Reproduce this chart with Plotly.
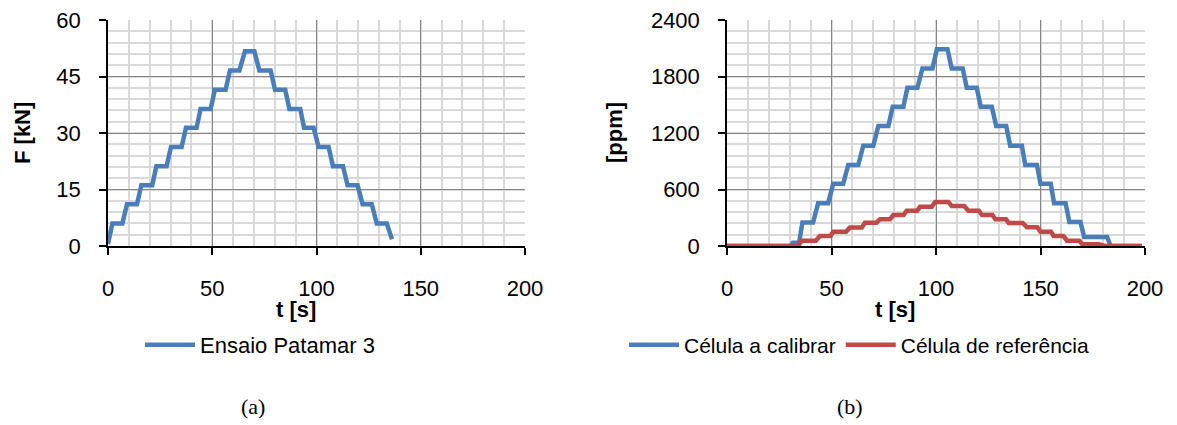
import plotly.graph_objects as go

# ---------------- data ----------------
# (a) Ensaio Patamar 3
t_a = [0, 2.1, 6.9, 9.1, 13.9, 16.0, 21.2, 23.2, 28.1, 30.2, 35.3, 37.4, 42.5, 44.4,
       49.2, 51.3, 56.4, 58.5, 63.0, 65.7, 70.2, 72.6, 78.0, 80.1, 85.0, 87.0, 92.2,
       94.0, 98.6, 101.0, 105.8, 107.9, 112.7, 114.9, 119.7, 122.1, 126.5, 128.9,
       133.7, 136.2]
F_a = [0.5, 6.0, 6.0, 11.1, 11.1, 16.1, 16.1, 21.2, 21.2, 26.3, 26.3, 31.4, 31.4, 36.4,
       36.4, 41.5, 41.5, 46.6, 46.6, 51.7, 51.7, 46.6, 46.6, 41.5, 41.5, 36.4, 36.4,
       31.4, 31.4, 26.3, 26.3, 21.2, 21.2, 16.1, 16.1, 11.1, 11.1, 6.0, 6.0, 1.8]

# (b) Célula a calibrar
t_cal = [0, 30.5, 31.5, 34.5, 36.1, 41.2, 43.6, 48.4, 50.8, 55.6, 58.0, 62.8, 65.2,
         70.0, 72.4, 77.2, 79.3, 84.4, 86.3, 91.1, 93.5, 98.3, 100.4, 105.5, 107.5,
         112.8, 114.7, 119.5, 121.4, 126.7, 128.8, 133.6, 135.5, 141.1, 142.7, 148.3,
         150.0, 154.9, 156.5, 162.0, 163.8, 169.1, 170.9, 181.9, 183.5, 198.5]
ppm_cal = [0, 0, 35, 35, 250, 250, 455, 455, 660, 660, 860, 860, 1065,
           1065, 1275, 1275, 1480, 1480, 1680, 1680, 1885, 1885, 2090, 2090, 1885,
           1885, 1680, 1680, 1480, 1480, 1275, 1275, 1065, 1065, 860, 860,
           660, 660, 455, 455, 255, 255, 95, 95, 0, 0]

# (b) Célula de referência
t_ref = [0, 34.0, 35.7, 42.5, 44.4, 49.5, 50.8, 57.0, 58.8, 64.5, 66.0, 71.5, 73.2,
         78.0, 79.6, 84.5, 86.0, 91.0, 92.4, 98.0, 99.6, 105.9, 107.5, 113.5, 115.5,
         120.5, 122.0, 127.0, 128.4, 133.5, 134.8, 141.5, 143.5, 148.5, 150.0, 155.0,
         156.3, 161.0, 162.7, 168.5, 170.0, 178.0, 181.0, 198.5]
ppm_ref = [0, 0, 56, 56, 106, 106, 152, 152, 197, 197, 248, 248, 285,
           285, 329, 329, 375, 375, 418, 418, 468, 468, 425, 425, 375,
           375, 329, 329, 283, 283, 245, 245, 198, 198, 152, 152,
           106, 106, 57, 57, 18, 18, 0, 0]

x_ticks = [0, 50, 100, 150, 200]
ya_ticks = [0, 15, 30, 45, 60]
yb_ticks = [0, 600, 1200, 1800, 2400]

# ---------------- style ----------------
W, H = 1177, 425
BLUE = "#4A7EBB"
RED = "#BE4B48"
FONT = "Liberation Sans, Arial, sans-serif"
SERIF = "Liberation Serif, Times New Roman, serif"
MAJ = "#868686"
MIN = "#D9D9D9"

def px_x(p):
    return p / W

def px_y(p):
    return 1 - p / H

fig = go.Figure()
fig.add_trace(go.Scatter(x=t_a, y=F_a, mode="lines", name="Ensaio Patamar 3",
                         line=dict(color=BLUE, width=4.5), xaxis="x", yaxis="y",
                         legend="legend"))
fig.add_trace(go.Scatter(x=t_cal, y=ppm_cal, mode="lines", name="Célula a calibrar",
                         line=dict(color=BLUE, width=4.5), xaxis="x2", yaxis="y2",
                         legend="legend2"))
fig.add_trace(go.Scatter(x=t_ref, y=ppm_ref, mode="lines", name="Célula de referência",
                         line=dict(color=RED, width=4.5), xaxis="x2", yaxis="y2",
                         legend="legend2"))

common_x = dict(range=[0, 200], tickvals=x_ticks, showline=True, linecolor="black",
                linewidth=1.5, ticks="outside", ticklen=7, tickcolor="black", tickwidth=1.5,
                showgrid=True, gridcolor=MAJ, gridwidth=1.3, zeroline=False,
                minor=dict(dtick=10, showgrid=True, gridcolor=MIN, gridwidth=2, ticks=""),
                tickfont=dict(family=FONT, size=22, color="black"),
                ticklabelstandoff=15, automargin=False, fixedrange=True)
common_y = dict(showline=True, linecolor="black", linewidth=1.5, ticks="outside",
                ticklen=7, tickcolor="black", tickwidth=1.5,
                showgrid=True, gridcolor=MAJ, gridwidth=1.3, zeroline=False,
                tickfont=dict(family=FONT, size=22, color="black"),
                ticklabelstandoff=14, automargin=False, fixedrange=True)

def label(text, x, y, size=22, family=FONT, angle=0):
    return dict(text=text, x=px_x(x), y=px_y(y), xref="paper", yref="paper",
                xanchor="center", yanchor="middle", textangle=angle, showarrow=False,
                font=dict(family=family, size=size, color="black"))

fig.update_layout(
    width=W, height=H,
    margin=dict(l=0, r=0, t=0, b=0),
    paper_bgcolor="white", plot_bgcolor="white",
    xaxis=dict(domain=[px_x(108), px_x(525)], anchor="y", **common_x),
    yaxis=dict(domain=[px_y(246), px_y(20)], anchor="x", range=[0, 60],
               tickvals=ya_ticks,
               minor=dict(dtick=3, showgrid=True, gridcolor=MIN, gridwidth=2, ticks=""),
               **common_y),
    xaxis2=dict(domain=[px_x(727), px_x(1145)], anchor="y2", **common_x),
    yaxis2=dict(domain=[px_y(246), px_y(20)], anchor="x2", range=[0, 2400],
                tickvals=yb_ticks,
                minor=dict(dtick=120, showgrid=True, gridcolor=MIN, gridwidth=2, ticks=""),
                **common_y),
    legend=dict(orientation="h", x=px_x(140), y=px_y(345), xanchor="left",
                yanchor="middle", font=dict(family=FONT, size=22, color="black"),
                bgcolor="rgba(0,0,0,0)", itemwidth=50, tracegroupgap=0),
    legend2=dict(orientation="h", x=px_x(624), y=px_y(345), xanchor="left",
                 yanchor="middle", font=dict(family=FONT, size=21, color="black"),
                 bgcolor="rgba(0,0,0,0)", itemwidth=50, tracegroupgap=0),
    showlegend=True,
    annotations=[
        label("<b>F [kN]</b>", 22, 133, angle=-90),
        label("<b>[ppm]</b>", 614, 133, angle=-90),
        label("<b>t [s]</b>", 296, 309),
        label("<b>t [s]</b>", 895, 309),
        label("(a)", 253, 406, size=22, family=SERIF),
        label("(b)", 850, 406, size=22, family=SERIF),
    ],
)

fig.write_html("out.html")
